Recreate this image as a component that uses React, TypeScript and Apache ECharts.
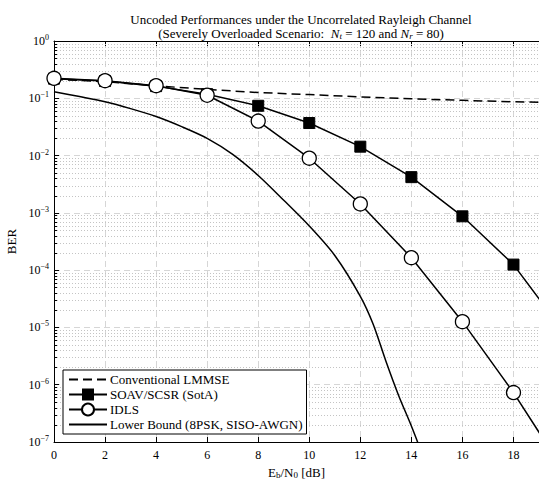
import React, { useEffect, useRef } from "react";
import * as echarts from "echarts";

// ---- data ----
const snr = [0, 2, 4, 6, 8, 10, 12, 14, 16, 18, 20];
const lmmse = [0.215, 0.195, 0.165, 0.143, 0.126, 0.116, 0.106, 0.098, 0.092, 0.087, 0.083];
const soav = [0.22, 0.2, 0.163, 0.118, 0.074, 0.037, 0.0143, 0.0042, 0.00087, 0.000125, 0.000008];
const idls = [0.223, 0.203, 0.166, 0.113, 0.04, 0.009, 0.00143, 0.000165, 0.0000126, 0.00000073, 0.00000003];
const lbSnr = [0, 1, 2, 3, 4, 5, 6, 7, 8, 9, 10, 11, 12, 12.5, 13, 13.5, 14, 14.5];
const lowerBound = [0.13, 0.107, 0.087, 0.066, 0.048, 0.032, 0.02, 0.0105, 0.0045, 0.00166, 0.00059, 0.00018, 0.000035, 0.0000115, 0.0000026, 0.00000065, 0.00000019, 0.00000005];
const names = [
  "Conventional LMMSE",
  "SOAV/SCSR (SotA)",
  "IDLS",
  "Lower Bound (8PSK, SISO-AWGN)",
];

const minorVals: number[] = [];
for (let d = -7; d < 0; d++) {
  for (let m = 2; m <= 9; m++) minorVals.push(m * Math.pow(10, d));
}

const FONT = "Liberation Serif";

const pairs = (xs: number[], ys: number[]) => xs.map((x, i) => [x, ys[i]]);

export default function App() {
  const ref = useRef<HTMLDivElement>(null);
  useEffect(() => {
    if (!ref.current) return;
    const chart = echarts.init(ref.current, null, { renderer: "svg" });
    const supStyle = { fontSize: 8, fontFamily: FONT, color: "#000", padding: [0, 0, 7, 0] };
    const subStyle = { fontSize: 9, fontFamily: FONT, color: "#000", padding: [5, 0, 0, 0] };
    const italic = { fontSize: 13, fontFamily: FONT, fontStyle: "italic", color: "#000" };
    const lineSeriesBase = {
      type: "line",
      clip: true,
      z: 5,
      lineStyle: { color: "#000", width: 1.5 },
      itemStyle: { color: "#000", borderColor: "#000" },
    };
    const noSymbol = { color: "rgba(0,0,0,0)", borderColor: "rgba(0,0,0,0)", borderWidth: 0, opacity: 0 };
    chart.setOption({
      animation: false,
      backgroundColor: "#fff",
      textStyle: { fontFamily: FONT },
      title: {
        left: 296,
        top: 7,
        textAlign: "center",
        text:
          "Uncoded Performances under the Uncorrelated Rayleigh Channel\n(Severely Overloaded Scenario:  {i|N}{s|t} = 120 and {i|N}{s|r} = 80)",
        textStyle: {
          fontFamily: FONT,
          fontSize: 13,
          fontWeight: "normal",
          color: "#000",
          lineHeight: 14,
          rich: {
            i: { ...italic, lineHeight: 14 },
            s: { ...subStyle, fontStyle: "italic", lineHeight: 14 },
          },
        },
      },
      grid: { left: 54, right: 0, top: 41, bottom: 39, containLabel: false, outerBoundsMode: "none" },
      legend: {
        orient: "vertical",
        left: 63,
        top: 370,
        data: [
          { name: names[0], itemStyle: noSymbol },
          { name: names[1] },
          { name: names[2] },
          { name: names[3], itemStyle: noSymbol },
        ],
        backgroundColor: "#fff",
        borderColor: "#000",
        borderWidth: 1,
        borderRadius: 0,
        padding: [2, 4, 2, 5],
        itemGap: 0,
        itemWidth: 38,
        itemHeight: 15,
        textStyle: { fontFamily: FONT, fontSize: 13, lineHeight: 15, color: "#000", padding: [0, 0, 0, -2] },
        z: 10,
      },
      xAxis: [
        {
          type: "value",
          min: 0,
          max: 19,
          interval: 2,
          position: "bottom",
          name: "E{s|b}/N{s|0} [dB]",
          nameLocation: "middle",
          nameGap: 20,
          nameTextStyle: {
            fontFamily: FONT,
            fontSize: 13,
            color: "#000",
            rich: { s: subStyle },
          },
          axisLine: { lineStyle: { color: "#000", width: 1 } },
          axisTick: { inside: true, length: 5, lineStyle: { color: "#000" } },
          axisLabel: {
            color: "#000",
            fontFamily: FONT,
            fontSize: 12,
            margin: 7,
            showMaxLabel: false,
          },
          splitLine: { show: true, lineStyle: { color: "#d6d6d6", type: [6, 4], width: 1 } },
        },
        {
          type: "value",
          min: 0,
          max: 19,
          interval: 2,
          position: "top",
          axisLine: { lineStyle: { color: "#000", width: 1 } },
          axisTick: { inside: true, length: 5, lineStyle: { color: "#000" } },
          axisLabel: { show: false },
          splitLine: { show: false },
        },
      ],
      yAxis: {
        type: "log",
        logBase: 10,
        min: 1e-7,
        max: 1,
        splitNumber: 7,
        name: "BER",
        nameLocation: "middle",
        nameGap: 32,
        nameTextStyle: { fontFamily: FONT, fontSize: 13, color: "#000" },
        axisLine: { show: true, lineStyle: { color: "#000", width: 1 } },
        axisTick: { inside: true, length: 5, lineStyle: { color: "#000" } },
        axisLabel: {
          color: "#000",
          fontFamily: FONT,
          fontSize: 12,
          margin: 5,
          formatter: (v: number) => {
            const e = Math.round(Math.log10(v));
            return "10{e|" + (e === 0 ? "0" : "\u2212" + -e) + "}";
          },
          rich: { e: supStyle },
        },
        splitLine: { show: true, lineStyle: { color: "#d6d6d6", type: [6, 4], width: 1 } },
      },
      series: [
        {
          type: "custom",
          name: "minor",
          silent: true,
          z: 1,
          clip: false,
          data: minorVals.map((v) => [0, v]),
          renderItem: (params: any, api: any) => {
            const cs = params.coordSys;
            const y = Math.round(api.coord([0, api.value(1)])[1]) + 0.5;
            return {
              type: "group",
              children: [
                {
                  type: "line",
                  shape: { x1: cs.x, y1: y, x2: cs.x + cs.width, y2: y },
                  style: { stroke: "#c4c4c4", lineWidth: 1, lineDash: [1, 2] },
                },
                {
                  type: "line",
                  shape: { x1: cs.x, y1: y, x2: cs.x + 3, y2: y },
                  style: { stroke: "#000", lineWidth: 1 },
                },
              ],
            };
          },
        },
        {
          ...lineSeriesBase,
          name: names[0],
          data: pairs(snr, lmmse),
          symbol: "none",
          lineStyle: { color: "#000", width: 1.5, type: [9, 5] },
        },
        {
          ...lineSeriesBase,
          name: names[1],
          data: pairs(snr, soav),
          symbol: "rect",
          symbolSize: 11,
        },
        {
          ...lineSeriesBase,
          name: names[2],
          data: pairs(snr, idls),
          symbol: "circle",
          symbolSize: 14,
          itemStyle: { color: "#fff", borderColor: "#000", borderWidth: 1.3 },
        },
        {
          ...lineSeriesBase,
          name: names[3],
          data: pairs(lbSnr, lowerBound),
          symbol: "none",
          smooth: 0.3,
        },
      ],
    });
    return () => chart.dispose();
  }, []);
  return (
    <div
      ref={ref}
      style={{ position: "fixed", left: 0, top: 0, width: 539, height: 481 }}
    />
  );
}
